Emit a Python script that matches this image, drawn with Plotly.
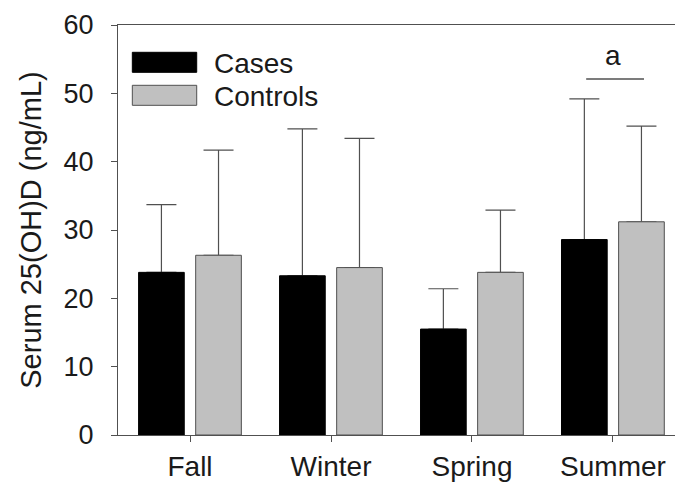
import plotly.graph_objects as go

# Season groups and serum 25(OH)D means with upper SD
seasons = ["Fall", "Winter", "Spring", "Summer"]
cases_mean = [23.8, 23.3, 15.5, 28.6]
cases_sd = [9.9, 21.5, 5.9, 20.6]
controls_mean = [26.3, 24.5, 23.8, 31.2]
controls_sd = [15.4, 18.9, 9.1, 14.0]
y_ticks = [0, 10, 20, 30, 40, 50, 60]

FONT = "Liberation Sans, Arial, sans-serif"
TXT = "#1a1a1a"
EDGE = "#505050"
x_pos = list(range(len(seasons)))

groups = [
    ("Cases", cases_mean, cases_sd, -0.365, "#000000", "#000000"),
    ("Controls", controls_mean, controls_sd, 0.04, "#c0c0c0", EDGE),
]

fig = go.Figure()
# Upper error whiskers first, so the solid bars hide their lower caps
for name, mean, sd, off, fill, edge in groups:
    fig.add_trace(go.Bar(
        x=x_pos, y=mean, width=0.324, offset=off, hoverinfo="skip",
        marker=dict(color="rgba(0,0,0,0)", line=dict(width=0)),
        error_y=dict(type="data", symmetric=False, array=sd,
                     arrayminus=[0] * len(sd),
                     color=EDGE, thickness=1.2, width=15),
    ))
for name, mean, sd, off, fill, edge in groups:
    fig.add_trace(go.Bar(
        x=x_pos, y=mean, name=name, width=0.324, offset=off,
        marker=dict(color=fill, line=dict(color=edge, width=1)),
    ))

# Legend drawn as swatches plus labels in the upper-left corner
legend_items = [("Cases", "#000000", "#000000", 0.8846, 0.9334, 0.907),
                ("Controls", "#c0c0c0", EDGE, 0.8041, 0.8529, 0.826)]
for label, fill, edge, y0, y1, ty in legend_items:
    fig.add_shape(type="rect", xref="paper", yref="paper",
                  x0=0.0257, x1=0.1413, y0=y0, y1=y1,
                  fillcolor=fill, line=dict(color=edge, width=1))
    fig.add_annotation(xref="paper", yref="paper", x=0.168, y=ty,
                       text=label, showarrow=False, xanchor="left",
                       yanchor="middle", font=dict(family=FONT, size=28, color=TXT))

# Significance marker over Summer
fig.add_shape(type="line", xref="x", yref="y", x0=2.81, x1=3.22, y0=52.1, y1=52.1,
              line=dict(color=EDGE, width=1.5))
fig.add_annotation(xref="x", yref="y", x=3.0, y=55.6, text="a", showarrow=False,
                   font=dict(family=FONT, size=28, color=TXT))

fig.update_layout(
    width=675, height=483,
    margin=dict(l=118, r=0, t=25, b=48),
    plot_bgcolor="white", paper_bgcolor="white",
    showlegend=False, barmode="overlay",
    xaxis=dict(range=[-0.511, 3.44], tickvals=x_pos, ticktext=seasons,
               showline=True, linecolor=EDGE, linewidth=1.2, mirror=True,
               ticks="outside", ticklen=6, tickcolor=EDGE, showgrid=False,
               zeroline=False, tickfont=dict(family=FONT, size=28, color=TXT)),
    yaxis=dict(range=[0, 60], tickvals=y_ticks,
               showline=True, linecolor=EDGE, linewidth=1.2,
               ticks="outside", ticklen=6, tickcolor=EDGE, showgrid=False,
               zeroline=False, ticklabelstandoff=12,
               tickfont=dict(family=FONT, size=27, color=TXT),
               title=dict(text="Serum 25(OH)D (ng/mL)", standoff=13,
                          font=dict(family=FONT, size=29, color=TXT))),
)

fig.write_html("out.html")
